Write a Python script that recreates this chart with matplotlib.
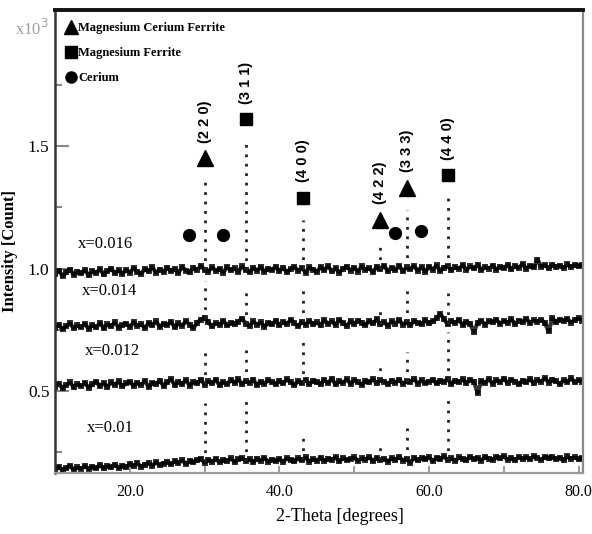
import numpy as np
import matplotlib

matplotlib.use("Agg")
import matplotlib.pyplot as plt
from matplotlib.lines import Line2D

plt.rcParams["font.family"] = "serif"
plt.rcParams["font.serif"] = ["Liberation Serif", "DejaVu Serif"]

# diffractometer scan, 0.5 degree steps
two_theta = np.arange(10.0, 80.51, 0.5)

scan_016 = [
    0.978, 0.992, 0.970, 0.985, 0.996, 0.975, 0.988, 0.980, 0.994, 0.972,
    0.990, 0.982, 0.997, 0.976, 0.989, 1.000, 0.981, 0.993, 0.978, 0.995,
    0.984, 1.002, 0.986, 0.979, 0.998, 0.990, 1.006, 0.983, 0.995, 0.987,
    1.004, 0.989, 0.999, 0.981, 1.008, 0.992, 0.985, 1.003, 0.994, 1.010,
    0.996, 0.988, 1.005, 0.991, 0.999, 0.984, 1.007, 0.993, 1.001, 0.987,
    1.009, 0.995, 0.986, 1.003, 0.992, 1.006, 0.988, 1.000, 0.994, 1.008,
    0.990, 1.004, 0.985, 0.998, 1.007, 0.991, 1.002, 0.983, 1.005, 0.996,
    0.987, 1.006, 0.993, 1.010, 0.989, 1.001, 0.984, 0.999, 1.008, 0.992,
    1.004, 0.988, 1.009, 0.995, 1.002, 0.986, 1.007, 0.997, 1.011, 0.990,
    1.003, 0.994, 1.012, 0.989, 1.005, 0.998, 1.010, 0.992, 1.006, 0.987,
    1.008, 0.996, 1.013, 0.991, 1.004, 1.010, 0.993, 1.007, 0.999, 1.014,
    0.995, 1.009, 1.001, 1.016, 0.994, 1.006, 1.000, 1.012, 0.996, 1.008,
    1.002, 1.015, 0.997, 1.010, 1.004, 1.018, 0.999, 1.011, 1.005, 1.036,
    1.008, 1.013, 1.002, 1.016, 1.006, 1.012, 1.003, 1.017, 1.007, 1.014,
    1.010, 1.016,
]
scan_014 = [
    0.758, 0.771, 0.752, 0.765, 0.776, 0.756, 0.768, 0.761, 0.774, 0.754,
    0.769, 0.760, 0.778, 0.757, 0.772, 0.764, 0.780, 0.759, 0.770, 0.775,
    0.762, 0.781, 0.766, 0.773, 0.758, 0.777, 0.768, 0.784, 0.763, 0.774,
    0.770, 0.782, 0.761, 0.776, 0.767, 0.785, 0.771, 0.758, 0.779, 0.792,
    0.800, 0.781, 0.764, 0.777, 0.770, 0.786, 0.768, 0.779, 0.774, 0.783,
    0.796, 0.775, 0.766, 0.784, 0.771, 0.780, 0.763, 0.778, 0.772, 0.787,
    0.769, 0.782, 0.774, 0.790, 0.776, 0.765, 0.783, 0.771, 0.786, 0.773,
    0.780, 0.768, 0.789, 0.775, 0.784, 0.770, 0.791, 0.777, 0.766, 0.785,
    0.774, 0.788, 0.779, 0.769, 0.786, 0.776, 0.793, 0.772, 0.781, 0.767,
    0.784, 0.775, 0.790, 0.771, 0.780, 0.768, 0.786, 0.777, 0.773, 0.789,
    0.776, 0.784, 0.797, 0.815, 0.794, 0.772, 0.786, 0.778, 0.791, 0.769,
    0.783, 0.774, 0.742, 0.779, 0.787, 0.771, 0.785, 0.780, 0.792, 0.775,
    0.786, 0.778, 0.793, 0.774, 0.788, 0.781, 0.796, 0.777, 0.789, 0.783,
    0.791, 0.776, 0.745, 0.798, 0.780, 0.792, 0.785, 0.795, 0.779, 0.790,
    0.797, 0.788,
]
scan_012 = [
    0.518, 0.530, 0.512, 0.526, 0.535, 0.515, 0.528, 0.521, 0.533, 0.514,
    0.527, 0.538, 0.520, 0.532, 0.516, 0.536, 0.524, 0.540, 0.519, 0.531,
    0.537, 0.522, 0.534, 0.525, 0.541, 0.518, 0.533, 0.527, 0.543, 0.521,
    0.535, 0.548, 0.524, 0.538, 0.529, 0.545, 0.522, 0.536, 0.531, 0.547,
    0.526, 0.540, 0.532, 0.546, 0.523, 0.537, 0.529, 0.544, 0.534, 0.549,
    0.528, 0.541, 0.533, 0.547, 0.525, 0.539, 0.530, 0.545, 0.536, 0.527,
    0.542, 0.531, 0.548, 0.535, 0.524, 0.540, 0.532, 0.546, 0.528, 0.543,
    0.536, 0.529, 0.545, 0.533, 0.550, 0.527, 0.541, 0.534, 0.548, 0.530,
    0.544, 0.537, 0.526, 0.542, 0.535, 0.549, 0.531, 0.545, 0.538, 0.528,
    0.543, 0.534, 0.547, 0.530, 0.540, 0.536, 0.551, 0.529, 0.544, 0.533,
    0.539, 0.546, 0.531, 0.542, 0.537, 0.550, 0.528, 0.543, 0.535, 0.548,
    0.532, 0.545, 0.538, 0.492, 0.541, 0.534, 0.549, 0.530, 0.544, 0.537,
    0.551, 0.533, 0.546, 0.539, 0.527, 0.543, 0.536, 0.550, 0.531, 0.545,
    0.538, 0.553, 0.534, 0.547, 0.540, 0.529, 0.544, 0.537, 0.552, 0.535,
    0.546, 0.539,
]
scan_010 = [
    0.180, 0.191, 0.176, 0.186, 0.195, 0.179, 0.189, 0.183, 0.194, 0.181,
    0.192, 0.185, 0.198, 0.184, 0.193, 0.188, 0.200, 0.186, 0.196, 0.190,
    0.202, 0.193, 0.205, 0.191, 0.199, 0.207, 0.195, 0.209, 0.198, 0.204,
    0.212, 0.201, 0.214, 0.206, 0.217, 0.203, 0.215, 0.209, 0.219, 0.224,
    0.208, 0.220, 0.212, 0.223, 0.209, 0.218, 0.213, 0.225, 0.211, 0.221,
    0.226, 0.214, 0.222, 0.210, 0.224, 0.216, 0.227, 0.212, 0.220, 0.215,
    0.223, 0.211, 0.226, 0.218, 0.213, 0.225, 0.217, 0.229, 0.212, 0.222,
    0.216, 0.228, 0.214, 0.224, 0.219, 0.230, 0.213, 0.226, 0.218, 0.223,
    0.229, 0.215, 0.225, 0.220, 0.231, 0.214, 0.227, 0.219, 0.224, 0.212,
    0.226, 0.218, 0.232, 0.216, 0.223, 0.208, 0.228, 0.217, 0.225, 0.221,
    0.230, 0.214, 0.227, 0.222, 0.233, 0.219, 0.226, 0.215, 0.229, 0.223,
    0.218, 0.231, 0.221, 0.228, 0.216, 0.232, 0.224, 0.219, 0.230, 0.225,
    0.233, 0.220, 0.227, 0.217, 0.231, 0.223, 0.229, 0.221, 0.234, 0.226,
    0.219, 0.232, 0.225, 0.230, 0.222, 0.228, 0.218, 0.233, 0.224, 0.229,
    0.221, 0.227,
]

sample_labels = ["x=0.016", "x=0.014", "x=0.012", "x=0.01"]
scans = [scan_016, scan_014, scan_012, scan_010]

# reflections and the spike maximum reached in each scan
peak_2theta = [30.1, 35.5, 43.1, 53.5, 57.0, 62.6]
peak_hkl = ["(2 2 0)", "(3 1 1)", "(4 0 0)", "(4 2 2)", "(3 3 3)", "(4 4 0)"]
peak_phase = ["^", "s", "s", "^", "^", "s"]
peak_top = [
    [1.36, 1.52, 1.20, 1.11, 1.24, 1.29],
    [0.95, 0.92, 0.92, 0.84, 0.93, 0.90],
    [0.66, 0.67, 0.72, 0.62, 0.66, 0.74],
    [0.45, 0.47, 0.33, 0.28, 0.36, 0.47],
]
cerium_2theta = [27.9, 32.4, 55.4, 58.9]

label_at = [(13.0, 1.10), (13.6, 0.91), (14.0, 0.665), (14.2, 0.35)]

fig = plt.figure(figsize=(5.92, 5.34), dpi=100)
ax = fig.add_axes([0.093, 0.114, 0.892, 0.867])

for scan, tops, label, (lx, ly) in zip(scans, peak_top, sample_labels, label_at):
    ax.plot(two_theta, scan, color="black", linewidth=3.0, alpha=0.8,
            marker="s", markersize=4.2, markeredgewidth=0)
    base = np.interp(peak_2theta, two_theta, scan)
    ax.vlines(peak_2theta, base, tops, color="#222222", linewidth=2.0,
              linestyles=(0, (1, 2.4)))
    ax.text(lx, ly, label, fontsize=12, va="center", ha="left")

# phase markers and Miller indices above the top scan
for pos, top, hkl, mk in zip(peak_2theta, peak_top[0], peak_hkl, peak_phase):
    my = top + 0.09
    ax.plot(pos, my, marker=mk, color="black", markersize=11 if mk == "^" else 9,
            linestyle="none")
    ax.annotate(hkl, (pos, my), xytext=(0, 11), textcoords="offset points",
                rotation=90, ha="center", va="bottom", fontsize=10.5,
                family="Liberation Sans", fontweight="bold")

cerium_y = np.interp(cerium_2theta, two_theta, scan_016) + 0.15
ax.plot(cerium_2theta, cerium_y, marker="o", color="black", markersize=8.5,
        linestyle="none")

handles = [
    Line2D([], [], marker="^", color="black", linestyle="none", markersize=10),
    Line2D([], [], marker="s", color="black", linestyle="none", markersize=8),
    Line2D([], [], marker="o", color="black", linestyle="none", markersize=8),
]
ax.legend(handles, ["Magnesium Cerium Ferrite", "Magnesium Ferrite", "Cerium"],
          loc="upper left", frameon=False, handlelength=0.6, handletextpad=0.3,
          borderaxespad=0.4, labelspacing=1.05, borderpad=0.55,
          prop={"family": "Liberation Serif", "weight": "bold", "size": 9})

ax.set_xlim(10.0, 80.6)
ax.set_ylim(0.165, 2.055)
ax.set_xticks([20, 40, 60, 80])
ax.set_xticklabels(["20.0", "40.0", "60.0", "80.0"])
ax.set_xticks([30, 50, 70], minor=True)
ax.set_yticks([0.5, 1.0, 1.5])
ax.set_yticklabels(["0.5", "1.0", "1.5"])
ax.set_yticks([0.25, 0.75, 1.25, 1.75], minor=True)
ax.tick_params(axis="both", which="both", direction="in", colors="#888888",
               labelcolor="black")
ax.tick_params(axis="x", which="both", length=5, width=1.2, pad=8, labelsize=11.5)
ax.tick_params(axis="y", which="major", length=10, width=1.5, pad=4, labelsize=12.5)
ax.tick_params(axis="y", which="minor", length=5, width=1.5)

ax.spines["top"].set_linewidth(2.8)
ax.spines["top"].set_color("#111111")
ax.spines["left"].set_linewidth(1.8)
ax.spines["left"].set_color("#333333")
ax.spines["right"].set_linewidth(1.6)
ax.spines["right"].set_color("#8a8a8a")
ax.spines["bottom"].set_linewidth(1.6)
ax.spines["bottom"].set_color("#9a9a9a")

ax.set_xlabel("2-Theta [degrees]", fontsize=13, labelpad=4)
ax.xaxis.set_label_coords(0.54, -0.075)
ax.set_ylabel("Intensity [Count]", fontsize=12, fontweight="bold", labelpad=6)
ax.yaxis.set_label_coords(-0.07, 0.48)

fig.text(0.025, 0.935, r"x10$^3$", fontsize=12, color="#a0a0a0")

fig.savefig("out.png", dpi=100)
plt.close(fig)
